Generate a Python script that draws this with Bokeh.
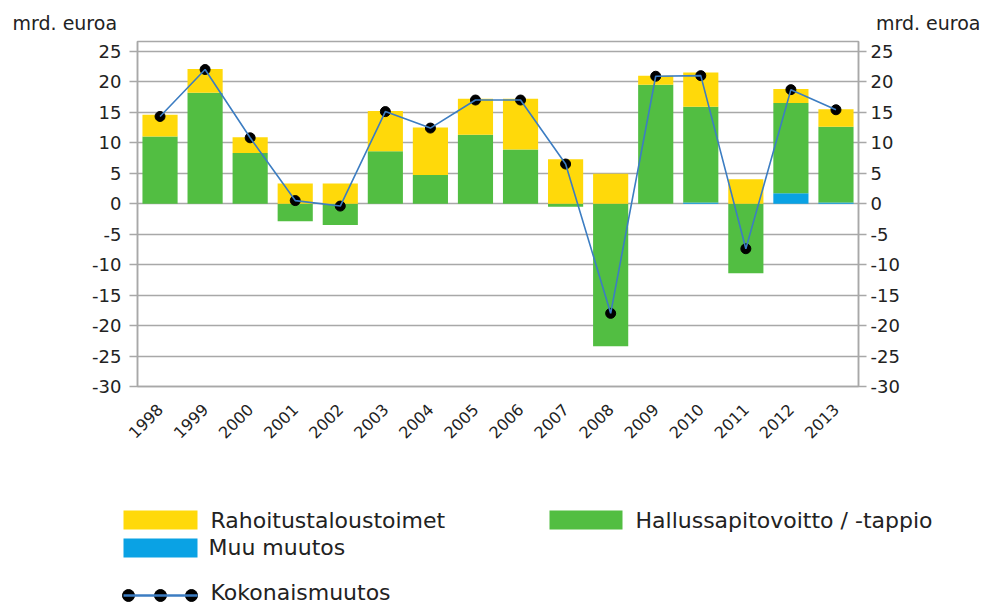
import math
import numpy as np
from bokeh.plotting import figure
from bokeh.models import Range1d, FactorRange, LinearAxis, FixedTicker, Label
from bokeh.layouts import column
from bokeh.core.properties import value
from bokeh.embed import file_html
from bokeh.resources import INLINE

# ---------------- data ----------------
years = ["1998", "1999", "2000", "2001", "2002", "2003", "2004", "2005",
         "2006", "2007", "2008", "2009", "2010", "2011", "2012", "2013"]
rahoitus = [3.6, 3.9, 2.6, 3.3, 3.3, 6.6, 7.8, 5.9, 8.3, 7.3, 4.9, 1.5, 5.6, 4.0, 2.3, 2.9]
hallussapito = [11.0, 18.2, 8.3, -2.9, -3.5, 8.6, 4.7, 11.3, 8.9, -0.5, -23.4, 19.5, 15.7, -11.4, 14.8, 12.4]
muu = [0.0, 0.0, 0.0, 0.0, 0.0, 0.0, 0.0, 0.0, 0.0, 0.0, 0.0, 0.0, 0.2, 0.0, 1.7, 0.2]
kokonais = [14.3, 22.0, 10.8, 0.5, -0.4, 15.1, 12.4, 17.0, 17.0, 6.5, -18.0, 20.9, 21.0, -7.4, 18.7, 15.4]
y_ticks = [-30, -25, -20, -15, -10, -5, 0, 5, 10, 15, 20, 25]
unit_label = "mrd. euroa"
legend_labels = ["Rahoitustaloustoimet", "Muu muutos", "Hallussapitovoitto / -tappio", "Kokonaismuutos"]

YELLOW = "#FFD90A"
GREEN = "#52BE42"
BLUE = "#0AA2E4"
LINE = "#3C7DC2"
GRID = "#A8A8A8"
TXT = "#222222"
FONT = "DejaVu Sans"

W = 983
H_MAIN = 490
H_LEG = 116

p = figure(width=W, height=H_MAIN,
           x_range=FactorRange(*years, range_padding=0),
           y_range=Range1d(-30, 26.6),
           output_backend="svg", toolbar_location=None,
           min_border_left=137, min_border_right=125,
           min_border_top=41, min_border_bottom=H_MAIN - 386)
p.outline_line_color = GRID
p.outline_line_width = 1.5
p.background_fill_color = "white"
p.border_fill_color = "white"

# stacked bars (bottom -> top: muu, hallussapito, rahoitus)
pos = np.zeros(len(years))
neg = np.zeros(len(years))
for vals, col in [(muu, BLUE), (hallussapito, GREEN), (rahoitus, YELLOW)]:
    v = np.array(vals, dtype=float)
    bottom = np.where(v >= 0, pos, neg)
    top = bottom + v
    pos = np.where(v >= 0, top, pos)
    neg = np.where(v < 0, top, neg)
    p.vbar(x=years, bottom=bottom, top=top, width=0.78, fill_color=col, line_color=None)

p.scatter(x=years, y=kokonais, size=10, fill_color="black", line_color="black")
p.line(x=years, y=kokonais, line_color=LINE, line_width=1.6)

# axes
p.add_layout(LinearAxis(), "right")
for ax in p.yaxis:
    ax.ticker = FixedTicker(ticks=y_ticks)
    ax.major_label_overrides = {t: str(t) for t in y_ticks}
    ax.axis_line_color = GRID
    ax.axis_line_width = 1.5
    ax.major_tick_line_color = GRID
    ax.major_tick_line_width = 1.5
    ax.major_tick_in = 0
    ax.major_tick_out = 8
    ax.minor_tick_line_color = None
    ax.major_label_text_font = FONT
    ax.major_label_text_font_size = "18px"
    ax.major_label_text_color = TXT
p.yaxis[0].major_label_standoff = 8
p.yaxis[1].major_label_standoff = 4

xa = p.xaxis[0]
xa.axis_line_color = GRID
xa.axis_line_width = 1.5
xa.major_tick_line_color = None
xa.major_tick_in = 0
xa.major_tick_out = 0
xa.major_label_orientation = math.pi / 4
xa.major_label_text_font = FONT
xa.major_label_text_font_size = "16px"
xa.major_label_text_color = TXT
xa.major_label_standoff = 20

p.xgrid.visible = False
p.ygrid.ticker = FixedTicker(ticks=y_ticks)
p.ygrid.grid_line_color = GRID
p.ygrid.grid_line_width = 1.5

# unit labels (canvas coordinates, placed in side panels so they are not clipped)
p.add_layout(Label(x=12, y=22, x_units="canvas", y_units="canvas", text=unit_label,
                   text_font=FONT, text_font_size="19px", text_color=TXT,
                   text_baseline="middle", text_align="left"), "above")
p.add_layout(Label(x=980, y=22, x_units="canvas", y_units="canvas", text=unit_label,
                   text_font=FONT, text_font_size="19px", text_color=TXT,
                   text_baseline="middle", text_align="right"), "below")

# ---------------- legend (own figure, page-pixel coordinates) ----------------
lg = figure(width=W, height=H_LEG, x_range=Range1d(0, W), y_range=Range1d(H_MAIN + H_LEG, H_MAIN),
            output_backend="svg", toolbar_location=None, min_border=0,
            x_axis_location=None, y_axis_location=None)
lg.frame_align = False
lg.outline_line_color = None
lg.grid.visible = False
lg.quad(left=[123, 123, 549], right=[197, 197, 622], top=[510, 538, 510], bottom=[529, 557, 529],
        fill_color=[YELLOW, BLUE, GREEN], line_color=None)
lg.scatter(x=[128, 160, 191], y=[595, 595, 595], size=12, fill_color="black", line_color="black")
lg.line(x=[123, 197], y=[595, 595], line_color=LINE, line_width=2.5)
lg.text(x=[210, 208, 635, 210], y=[520, 547, 520, 592], text=legend_labels,
        text_font=value(FONT), text_font_size="22px", text_baseline="middle", text_color=TXT)

layout = column(p, lg, spacing=0)
open("out.html", "w").write(file_html(layout, INLINE))
